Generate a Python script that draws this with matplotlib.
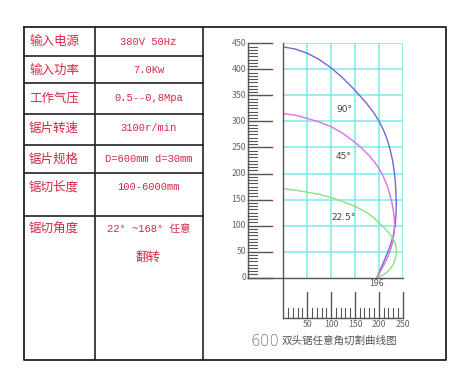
import matplotlib
matplotlib.use("Agg")
import matplotlib.pyplot as plt
import numpy as np

plt.rcParams['font.family'] = ['Noto Sans CJK SC', 'DejaVu Sans']

# ---------------- data ----------------
row_labels = ["输入电源", "输入功率", "工作气压", "锯片转速", "锯片规格", "锯切长度", "锯切角度"]
row_values = ["380V 50Hz", "7.0Kw", "0.5--0,8Mpa", "3100r/min", "D=600mm d=30mm", "100-6000mm", "22° ~168° 任意"]
row_values_extra = ["", "", "", "", "", "", "翻转"]

# curves (x = width, y = height)
c90_x = [0, 25, 50, 75, 100, 125, 150, 175, 190, 200, 210, 218, 224, 229, 232, 234.5, 236, 236.5, 236, 234, 230, 224, 217, 209, 202, 196]
c90_y = [443, 439, 431, 419, 403, 383, 360, 334, 316, 301, 283, 264, 245, 224, 206, 185, 160, 140, 120, 100, 80, 62, 45, 28, 13, 0]
c45_x = [0, 25, 50, 75, 100, 125, 150, 165, 180, 192, 202, 210, 217, 223, 228, 231.5, 233, 232, 229, 224, 217, 208, 201, 196]
c45_y = [315, 312, 306, 299, 290, 277, 260, 248, 234, 221, 207, 193, 178, 160, 142, 122, 102, 85, 68, 52, 36, 20, 9, 0]
c22_x = [0, 25, 50, 75, 100, 125, 150, 165, 180, 192, 202, 212, 220, 227, 232, 235.5, 237, 236.5, 234.5, 231, 225, 217, 207, 196]
c22_y = [171, 168, 164, 160, 154, 146, 137, 130, 122, 113, 104, 95, 87, 79, 71, 62, 54, 45, 36, 27, 18, 10, 4, 0]
curve_labels = ["90°", "45°", "22.5°"]
label_pos_x = [128, 126, 126]
label_pos_y = [323, 232, 116]

y_ticks = [0, 50, 100, 150, 200, 250, 300, 350, 400, 450]
x_ticks = [50, 100, 150, 200, 250]
meet_label = "196"
title_num = "600"
title_txt = "双头锯任意角切割曲线图"

# ---------------- figure ----------------
W, H = 468, 378
fig = plt.figure(figsize=(W / 100, H / 100), dpi=100)
fig.patch.set_facecolor("white")

bg = fig.add_axes([0, 0, 1, 1])
bg.set_xlim(0, W)
bg.set_ylim(H, 0)
bg.axis("off")

red = "#d42a46"
line_c = "#222222"

# table
L, R, T, B = 23.5, 446, 27, 360
c1, c2 = 94.5, 203
rows_y = [56, 83, 114, 145, 173, 216]
bg.plot([L, R, R, L, L], [T, T, B, B, T], color=line_c, lw=1.3)
bg.plot([c1, c1], [T, B], color=line_c, lw=1.2)
bg.plot([c2, c2], [T, B], color=line_c, lw=1.2)
for yy in rows_y:
    bg.plot([L, c2], [yy, yy], color=line_c, lw=1.2)

lab_y = [41.7, 70, 98.3, 128.3, 159.3, 186.7, 229.3]
for lbl, val, extra, yy in zip(row_labels, row_values, row_values_extra, lab_y):
    bg.text(29, yy, lbl, color=red, fontsize=9, va="center", ha="left",
            family=["Noto Sans CJK SC"])
    bg.text(148.5, yy, val, color=red, fontsize=7.6, va="center", ha="center",
            family=["Liberation Mono", "Noto Sans CJK SC"])
    if extra:
        bg.text(148.5, yy + 28, extra, color=red, fontsize=9, va="center", ha="center",
                family=["Noto Sans CJK SC"])

# ---------------- chart ----------------
x0p, x1p = 283.3, 402.7
y0p, y1p = 277.7, 43.3
ax = fig.add_axes([x0p / W, (H - y0p) / H, (x1p - x0p) / W, (y0p - y1p) / H])
ax.set_xlim(0, 250)
ax.set_ylim(0, 450)
ax.axis("off")

grid_c = "#7ee8e8"
for xv in x_ticks:
    ax.plot([xv, xv], [0, 450], color=grid_c, lw=1.1)
for yv in y_ticks[1:]:
    ax.plot([0, 250], [yv, yv], color=grid_c, lw=1.1)

ax.plot(c90_x, c90_y, color="#6a6ad2", lw=1.0)
ax.plot(c45_x, c45_y, color="#e070e0", lw=1.0)
ax.plot(c22_x, c22_y, color="#84e484", lw=1.0)
for t, lx, ly in zip(curve_labels, label_pos_x, label_pos_y):
    ax.text(lx, ly, t, fontsize=6.5, color="#444444", ha="center", va="center",
            family=["DejaVu Sans"])

axis_c = "#555555"
sx = (x1p - x0p) / 250
sy = (y0p - y1p) / 450

def dx(px):
    return (px - x0p) / sx

def dy(py):
    return (y0p - py) / sy

# left ruler
rx = dx(247.7)
ax.plot([rx, rx], [0, 450], color=axis_c, lw=1.0, clip_on=False)
ax.plot([rx, 250], [0, 0], color=axis_c, lw=1.0, clip_on=False)
maj_end = dx(271.7)
min_end = dx(256.5)
for yv in y_ticks:
    ax.plot([rx, maj_end], [yv, yv], color=axis_c, lw=1.0, clip_on=False)
    ax.text(dx(246), yv, str(yv), fontsize=6.3, color="#666666", ha="right", va="center")
for yv in np.arange(0, 450, 6.25):
    if yv % 50 != 0:
        ax.plot([rx, min_end], [yv, yv], color=axis_c, lw=0.8, clip_on=False)

# vertical axis line at x=0
by = dy(317.7)
ax.plot([0, 0], [450, by], color=axis_c, lw=1.0, clip_on=False)
# bottom ruler
ax.plot([0, 250], [by, by], color=axis_c, lw=1.0, clip_on=False)
maj_top = dy(291.7)
min_top = dy(308.3)
for xv in x_ticks:
    ax.plot([xv, xv], [by, maj_top], color=axis_c, lw=1.0, clip_on=False)
    ax.text(xv, dy(324.5), str(xv), fontsize=6.3, color="#666666", ha="center", va="center")
for xv in range(10, 250, 10):
    if xv % 50 != 0:
        ax.plot([xv, xv], [by, min_top], color=axis_c, lw=0.8, clip_on=False)

ax.text(196, dy(284), meet_label, fontsize=6.3, color="#555555", ha="center", va="center")

# title
bg.text(279, 341, title_num, fontsize=11, color="#777777", ha="right", va="center",
        family=["DejaVu Sans"], fontweight="light")
bg.text(282, 341, title_txt, fontsize=7.6, color="#555555", ha="left", va="center",
        family=["Noto Sans CJK SC"])

fig.savefig("out.png", dpi=100, facecolor="white")
